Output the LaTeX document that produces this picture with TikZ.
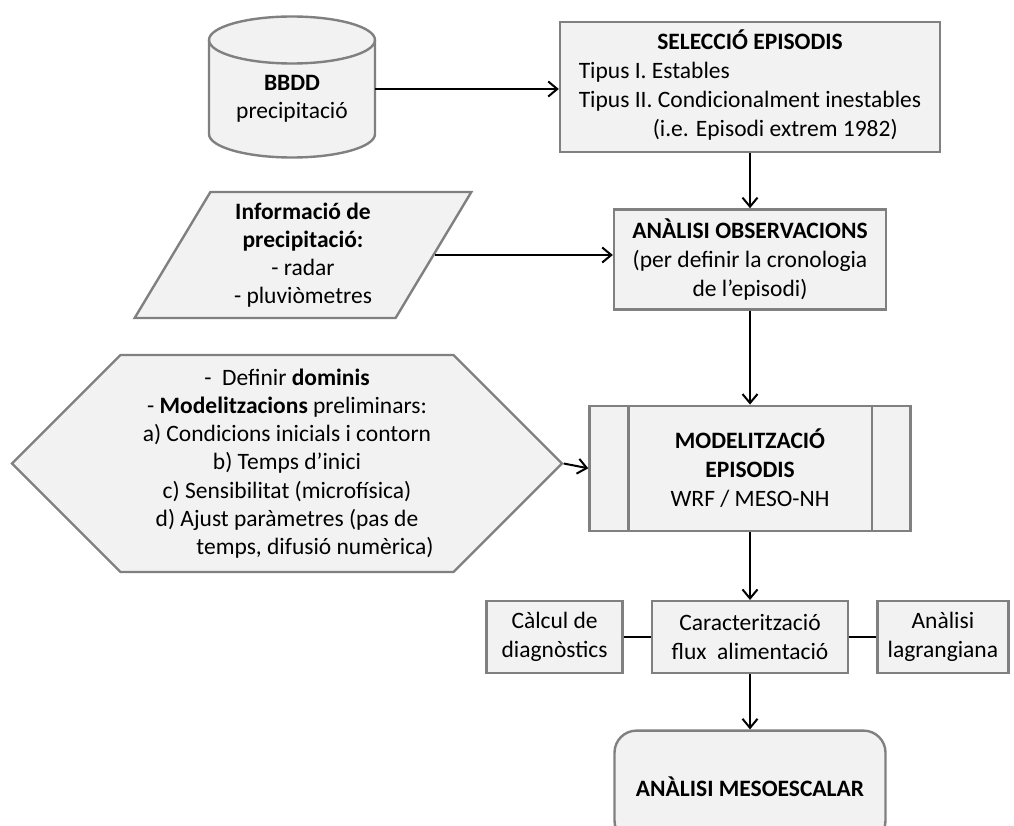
\documentclass[tikz,border=0pt]{standalone}
\usepackage{fontspec}
\setmainfont{Carlito}
\usepackage{tikz}
\usetikzlibrary{arrows.meta,positioning,calc,shapes.geometric,shapes.symbols}
\definecolor{edge}{RGB}{128,128,128}
\definecolor{soft}{RGB}{242,242,242}
\tikzset{co/.style={draw=edge,line width=2.4pt,fill=soft,align=center,inner sep=4pt,font={\fontsize{23.5}{29}\selectfont}},side/.style={co,minimum height=72pt},rim/.style={draw=edge,line width=2.4pt},flow/.style={-{Straight Barb[length=9pt,width=15pt]},line width=2pt,draw=black},link/.style={line width=2pt,draw=black}}

\begin{document}
\begin{tikzpicture}[x=1pt,y=1pt]
\useasboundingbox (0,0) rectangle (1014,-826);
\clip (0,0) rectangle (1014,-826);
% database cylinder
\coordinate (db) at (292,-99);
\draw[rim,fill=soft] ($(db)+(-83,59)$) -- ($(db)+(-83,-35)$) arc[start angle=180,end angle=360,x radius=83,y radius=23.5] -- ($(db)+(83,59)$) arc[start angle=0,end angle=180,x radius=83,y radius=23.5] -- cycle;
\draw[rim] ($(db)+(-83,59)$) arc[start angle=180,end angle=360,x radius=83,y radius=23.5];
\node[align=center,minimum width=166pt,inner sep=0pt,font={\fontsize{23.5}{28}\selectfont}] (bbdd) at (db) {\textbf{BBDD}\\precipitació};
\node[co,minimum width=380pt,minimum height=130pt] (sel) at (750,-87) {\begin{tabular}{@{}l@{}}\multicolumn{1}{@{}c@{}}{\textbf{SELECCIÓ EPISODIS}}\\Tipus I. Estables\\Tipus II. Condicionalment inestables\\\hspace*{74pt}(i.e. Episodi extrem 1982)\end{tabular}};
\node[co,minimum width=272pt,minimum height=100pt,below=55pt of sel] (obs) {\textbf{ANÀLISI OBSERVACIONS}\\(per definir la cronologia\\de l’episodi)};
\node[co,trapezium,trapezium left angle=62,trapezium right angle=118,trapezium stretches,minimum width=338pt,minimum height=126pt,font={\fontsize{23.5}{28}\selectfont}] (info) at (303,-255) {\textbf{Informació de}\\\textbf{precipitació:}\\- radar\\- pluviòmetres};
\node[co,minimum width=321pt,minimum height=125pt,below=94pt of obs] (model) {\textbf{MODELITZACIÓ}\\\textbf{EPISODIS}\\WRF / MESO-NH};
\draw[rim] ([xshift=40pt]model.north west) -- ([xshift=40pt]model.south west) ([xshift=-40pt]model.north east) -- ([xshift=-40pt]model.south east);
\node[co,signal,signal to=east and west,signal from=nowhere,signal pointer angle=90,minimum width=550pt,minimum height=217pt,font={\fontsize{23.5}{28.2}\selectfont}] (dom) at (287,-463.5) {-\ \ Definir \textbf{dominis}\\- \textbf{Modelitzacions} preliminars:\\a) Condicions inicials i contorn\\b) Temps d’inici\\c) Sensibilitat (microfísica)\\d) Ajust paràmetres (pas de\\\hspace*{56pt}temps, difusió numèrica)};
\node[side,minimum width=196pt,below=68pt of model] (car) {Caracterització\\flux\ \ alimentació};
\node[side,minimum width=136pt,left=27pt of car] (calc) {Càlcul de\\diagnòstics};
\node[side,minimum width=131pt,right=27pt of car] (lagr) {Anàlisi\\lagrangiana};
\node[co,rounded corners=22pt,minimum width=271pt,minimum height=112pt,below=55pt of car] (meso) {\textbf{ANÀLISI MESOESCALAR}};
% connectors
\draw[flow] ([yshift=10pt]bbdd.east) -- ([yshift=10pt]bbdd.east -| sel.west);
\draw[flow] (sel) -- (obs);
\draw[flow] (info.east) -- (info.east -| obs.west);
\draw[flow] (obs) -- (model);
\draw[flow] (dom.east) -- (model.west);
\draw[flow] (model) -- (car);
\draw[link] (calc) -- (car);\draw[link] (car) -- (lagr);
\draw[flow] (car) -- (meso);
\end{tikzpicture}
\end{document}
